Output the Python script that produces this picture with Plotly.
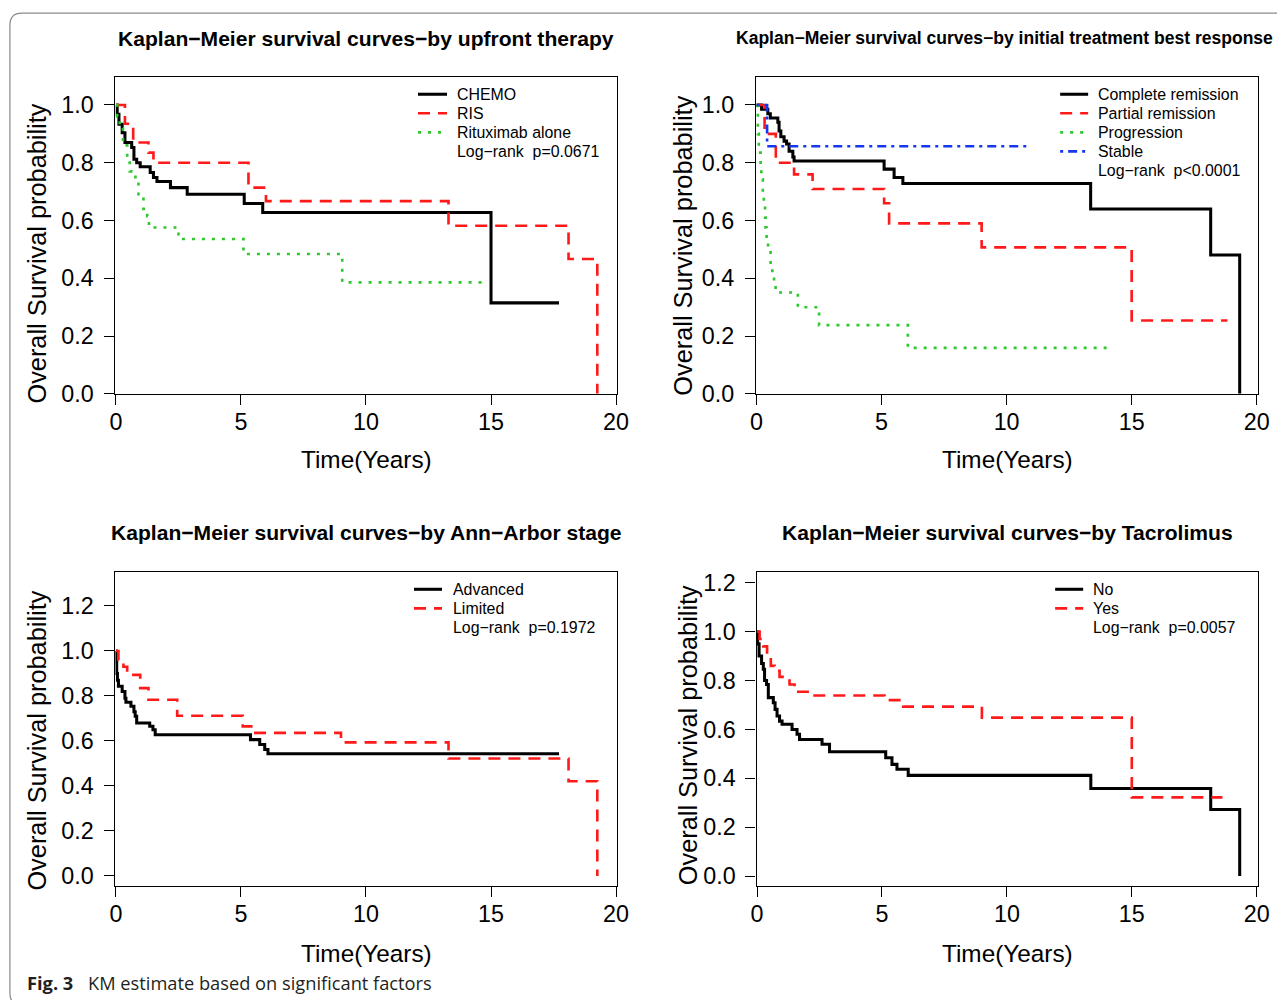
import plotly.graph_objects as go

# page body keeps its default 8px margin, so the figure is 16px smaller than the window
OFF = 8
W, H = 1285 - 2 * OFF, 1008 - 2 * OFF
# measured mapping between requested window pixels and the photographed picture
AX, BX = 0.9856, 6.2
AY, BY = 0.9868, 1.0
AF = 0.986

# ---------------- data ----------------
titles = [
    "Kaplan\u2212Meier survival curves\u2212by upfront therapy",
    "Kaplan\u2212Meier survival curves\u2212by initial treatment best response",
    "Kaplan\u2212Meier survival curves\u2212by Ann\u2212Arbor stage",
    "Kaplan\u2212Meier survival curves\u2212by Tacrolimus",
]
x_title = "Time(Years)"
y_title = "Overall Survival probability"
x_ticks = [0, 5, 10, 15, 20]
x_ticklabels = ["0", "5", "10", "15", "20"]
y_ticks_top = [0.0, 0.2, 0.4, 0.6, 0.8, 1.0]
y_ticklabels_top = ["0.0", "0.2", "0.4", "0.6", "0.8", "1.0"]
y_ticks_bot = [0.0, 0.2, 0.4, 0.6, 0.8, 1.0, 1.2]
y_ticklabels_bot = ["0.0", "0.2", "0.4", "0.6", "0.8", "1.0", "1.2"]

# Panel 1: upfront therapy
chemo_t = [0, 0.05, 0.12, 0.25, 0.36, 0.63, 0.72, 0.83, 0.97, 1.37, 1.50, 1.64, 2.18, 2.85, 5.13, 5.87, 15.0, 17.72]
chemo_s = [1.0, 0.968, 0.933, 0.904, 0.870, 0.853, 0.812, 0.800, 0.786, 0.766, 0.749, 0.735, 0.714, 0.691, 0.659, 0.628, 0.315, 0.315]
ris_t = [0, 0.36, 0.69, 1.3, 1.5, 5.3, 6.0, 13.3, 18.1, 19.25]
ris_s = [1.0, 0.935, 0.87, 0.835, 0.80, 0.714, 0.667, 0.582, 0.467, 0.0]
ritux_t = [0, 0.05, 0.15, 0.28, 0.45, 0.55, 0.78, 0.90, 1.1, 1.25, 1.32, 2.5, 5.1, 9.05, 14.7]
ritux_s = [1.0, 0.96, 0.92, 0.86, 0.81, 0.77, 0.735, 0.685, 0.64, 0.615, 0.576, 0.536, 0.484, 0.386, 0.386]
p1_labels = ["CHEMO", "RIS", "Rituximab alone", "Log\u2212rank  p=0.0671"]

# Panel 2: initial treatment best response
cr_t = [0, 0.2, 0.45, 0.55, 0.85, 0.9, 0.97, 1.1, 1.2, 1.3, 1.45, 1.5, 5.1, 5.5, 5.85, 13.36, 18.16, 19.32]
cr_s = [1.0, 0.985, 0.97, 0.955, 0.94, 0.91, 0.89, 0.875, 0.865, 0.84, 0.82, 0.806, 0.778, 0.749, 0.728, 0.64, 0.481, 0.0]
pr_t = [0, 0.32, 0.77, 1.5, 2.24, 5.1, 5.3, 9.0, 15.0, 18.83]
pr_s = [1.0, 0.90, 0.80, 0.76, 0.709, 0.66, 0.59, 0.507, 0.254, 0.254]
prog_t = [0, 0.03, 0.05, 0.09, 0.16, 0.19, 0.25, 0.29, 0.34, 0.36, 0.40, 0.46, 0.56, 0.63, 0.70, 0.76, 1.65, 2.5, 6.05, 14.05]
prog_s = [1.0, 0.97, 0.90, 0.835, 0.783, 0.743, 0.685, 0.651, 0.61, 0.576, 0.53, 0.495, 0.449, 0.415, 0.386, 0.351, 0.30, 0.238, 0.159, 0.159]
stable_t = [0, 0.42, 10.83]
stable_s = [1.0, 0.857, 0.857]
p2_labels = ["Complete remission", "Partial remission", "Progression", "Stable", "Log\u2212rank  p<0.0001"]

# Panel 3: Ann-Arbor stage
adv_t = [0, 0.01, 0.03, 0.06, 0.10, 0.25, 0.36, 0.40, 0.60, 0.72, 0.77, 0.83, 1.35, 1.48, 1.57, 5.38, 5.75, 5.95, 6.08, 17.72]
adv_s = [1.0, 0.95, 0.90, 0.87, 0.843, 0.82, 0.79, 0.772, 0.754, 0.73, 0.71, 0.68, 0.665, 0.65, 0.628, 0.606, 0.584, 0.562, 0.543, 0.543]
lim_t = [0, 0.1, 0.3, 0.45, 0.97, 1.3, 2.45, 5.07, 5.47, 9.0, 13.3, 18.1, 19.25]
lim_s = [1.0, 0.96, 0.93, 0.894, 0.835, 0.783, 0.712, 0.665, 0.636, 0.594, 0.522, 0.421, 0.0]
p3_labels = ["Advanced", "Limited", "Log\u2212rank  p=0.1972"]

# Panel 4: Tacrolimus
no_t = [0, 0.02, 0.08, 0.18, 0.25, 0.3, 0.38, 0.45, 0.65, 0.72, 0.8, 0.9, 1.0, 1.4, 1.6, 1.7, 2.6, 2.9, 5.15, 5.4, 5.6, 6.05, 13.36, 18.16, 19.32]
no_s = [1.0, 0.95, 0.90, 0.87, 0.846, 0.80, 0.784, 0.73, 0.709, 0.682, 0.655, 0.634, 0.621, 0.60, 0.58, 0.559, 0.539, 0.509, 0.484, 0.457, 0.437, 0.412, 0.358, 0.272, 0.0]
yes_t = [0, 0.1, 0.25, 0.4, 0.55, 0.7, 0.9, 1.1, 1.3, 1.5, 2.2, 5.1, 5.85, 9.0, 15.0, 18.63]
yes_s = [1.0, 0.97, 0.94, 0.90, 0.86, 0.84, 0.815, 0.80, 0.784, 0.754, 0.739, 0.72, 0.693, 0.648, 0.322, 0.322]
p4_labels = ["No", "Yes", "Log\u2212rank  p=0.0057"]

caption_bold = "Fig. 3"
caption_text = "KM estimate based on significant factors"

# ---------------- styling ----------------
FONT = "Liberation Sans, Arial, Helvetica, sans-serif"
CAPFONT = "Open Sans, Noto Sans, sans-serif"
BLACK = "#000000"
RED = "#FF1A1A"
GREEN = "#2EC82E"
BLUE = "#1438F0"


def F(s):
    return s / AF


LW = F(2.6)
STY = {
    "solid": dict(color=BLACK, width=F(3), dash="solid"),
    "dash": dict(color=RED, width=LW, dash="12px,8px"),
    "dot": dict(color=GREEN, width=LW, dash="3px,7px"),
    "dotdash": dict(color=BLUE, width=LW, dash="3px,5px,9px,5px"),
}


def X(px):
    """reference pixel -> paper x"""
    return ((px - BX) / AX - OFF) / W


def Y(py):
    """reference pixel -> paper y"""
    return 1 - ((py - BY) / AY - OFF) / H


# panel boxes in reference pixels: (left, right, top, bottom)
boxes = [
    (115.5, 617.0, 76.0, 393.5),
    (756.0, 1258.0, 76.0, 393.5),
    (115.5, 617.0, 572.0, 886.7),
    (756.5, 1258.0, 572.0, 886.7),
]
xranges = [[-0.02, 20.04], [-0.02, 20.06], [-0.02, 20.04], [-0.02, 20.06]]
yranges = [[0.0, 1.097], [0.0, 1.097], [-0.045, 1.351], [-0.041, 1.244]]
ystandoff = [6, 6, 6, 5]

fig = go.Figure()

series = [
    (1, chemo_t, chemo_s, "solid", p1_labels[0]),
    (1, ris_t, ris_s, "dash", p1_labels[1]),
    (1, ritux_t, ritux_s, "dot", p1_labels[2]),
    (2, cr_t, cr_s, "solid", p2_labels[0]),
    (2, pr_t, pr_s, "dash", p2_labels[1]),
    (2, prog_t, prog_s, "dot", p2_labels[2]),
    (2, stable_t, stable_s, "dotdash", p2_labels[3]),
    (3, adv_t, adv_s, "solid", p3_labels[0]),
    (3, lim_t, lim_s, "dash", p3_labels[1]),
    (4, no_t, no_s, "solid", p4_labels[0]),
    (4, yes_t, yes_s, "dash", p4_labels[1]),
]
for k, t, s, sty, name in series:
    suf = "" if k == 1 else str(k)
    ln = dict(STY[sty])
    ln["shape"] = "hv"
    fig.add_trace(go.Scatter(x=t, y=s, mode="lines", line=ln, name=name,
                             xaxis="x" + suf, yaxis="y" + suf,
                             showlegend=False, hoverinfo="skip"))

axis_common = dict(showline=True, linecolor="black", linewidth=F(1.3), mirror=True,
                   ticks="outside", ticklen=round(F(10)), tickwidth=F(1.3), tickcolor="black",
                   showgrid=False, zeroline=False,
                   tickfont=dict(family=FONT, size=F(23), color="black"))

layout = dict(width=W, height=H, margin=dict(l=0, r=0, t=0, b=0),
              paper_bgcolor="white", plot_bgcolor="white", showlegend=False)

for i, (l, r, t, b) in enumerate(boxes):
    suf = "" if i == 0 else str(i + 1)
    xa = dict(axis_common)
    xa.update(domain=[X(l), X(r)], range=xranges[i], tickmode="array",
              tickvals=x_ticks, ticktext=x_ticklabels, anchor="y" + suf,
              ticklabelstandoff=-3)
    ya = dict(axis_common)
    yt = y_ticks_top if i < 2 else y_ticks_bot
    yl = y_ticklabels_top if i < 2 else y_ticklabels_bot
    ya.update(domain=[Y(b), Y(t)], range=yranges[i], tickmode="array",
              tickvals=yt, ticktext=yl, anchor="x" + suf,
              ticklabelstandoff=int(ystandoff[i]))
    layout["xaxis" + suf] = xa
    layout["yaxis" + suf] = ya

annotations = []
shapes = []

# panel titles
title_pos = [(366.3, 37.0, 20.8), (1004.0, 37.0, 17.3), (366.3, 532.0, 20.8), (1007.0, 532.0, 20.8)]
for (cx, cy, fs), txt in zip(title_pos, titles):
    annotations.append(dict(x=X(cx), y=Y(cy), xref="paper", yref="paper", text=txt,
                            showarrow=False, xanchor="center", yanchor="middle",
                            font=dict(family=FONT, size=F(fs), color="black", weight="bold")))

# axis titles
xt_pos = [(366.5, 459.0), (1007.0, 459.0), (366.5, 954.0), (1007.0, 954.0)]
yt_pos = [(37.0, 253.0), (683.0, 245.0), (37.0, 741.0), (687.5, 736.0)]
for (cx, cy) in xt_pos:
    annotations.append(dict(x=X(cx), y=Y(cy), xref="paper", yref="paper", text=x_title,
                            showarrow=False, xanchor="center", yanchor="middle",
                            font=dict(family=FONT, size=F(24), color="black")))
for (cx, cy) in yt_pos:
    annotations.append(dict(x=X(cx), y=Y(cy), xref="paper", yref="paper", text=y_title,
                            showarrow=False, xanchor="center", yanchor="middle", textangle=-90,
                            font=dict(family=FONT, size=F(25), color="black")))

# legends (R-style, inside the top-right of each panel)
legend_specs = [
    (p1_labels, ["solid", "dash", "dot", None], 454.7, 418.0, 447.0, 93.3),
    (p2_labels, ["solid", "dash", "dot", "dotdash", None], 1095.7, 1060.0, 1088.0, 93.3),
    (p3_labels, ["solid", "dash", None], 450.7, 414.0, 442.0, 589.3),
    (p4_labels, ["solid", "dash", None], 1090.7, 1055.0, 1083.0, 589.3),
]
ROW = 19.1
for labels, stys, tx, lx0, lx1, y0 in legend_specs:
    for j, (lab, sty) in enumerate(zip(labels, stys)):
        yy = y0 + j * ROW
        annotations.append(dict(x=X(tx), y=Y(yy), xref="paper", yref="paper", text=lab,
                                showarrow=False, xanchor="left", yanchor="middle",
                                font=dict(family=FONT, size=F(15.7), color="black")))
        if sty is not None:
            shapes.append(dict(type="line", xref="paper", yref="paper",
                               x0=X(lx0), x1=X(lx1), y0=Y(yy), y1=Y(yy),
                               line=dict(color=STY[sty]["color"], width=STY[sty]["width"],
                                         dash=STY[sty]["dash"])))

# caption
annotations.append(dict(x=X(25.0), y=Y(983.0), xref="paper", yref="paper",
                        text=caption_bold, showarrow=False, xanchor="left", yanchor="middle",
                        font=dict(family=CAPFONT, size=F(18), color="#231f20", weight="bold")))
annotations.append(dict(x=X(86.5), y=Y(983.0), xref="paper", yref="paper",
                        text=caption_text, showarrow=False, xanchor="left", yanchor="middle",
                        font=dict(family=CAPFONT, size=F(18), color="#231f20")))

# figure frame (rounded rectangle, as in the journal figure)
frame = (f"M {X(1300)},{Y(12)} L {X(22)},{Y(12)} Q {X(10)},{Y(12)} {X(10)},{Y(24)} "
         f"L {X(10)},{Y(994)} Q {X(10)},{Y(1006)} {X(22)},{Y(1006)} L {X(1300)},{Y(1006)}")
shapes.append(dict(type="path", xref="paper", yref="paper", path=frame,
                   line=dict(color="#8a8a8a", width=1.2)))

layout["annotations"] = annotations
layout["shapes"] = shapes
fig.update_layout(**layout)

fig.write_html("out.html", config={"displayModeBar": False})
